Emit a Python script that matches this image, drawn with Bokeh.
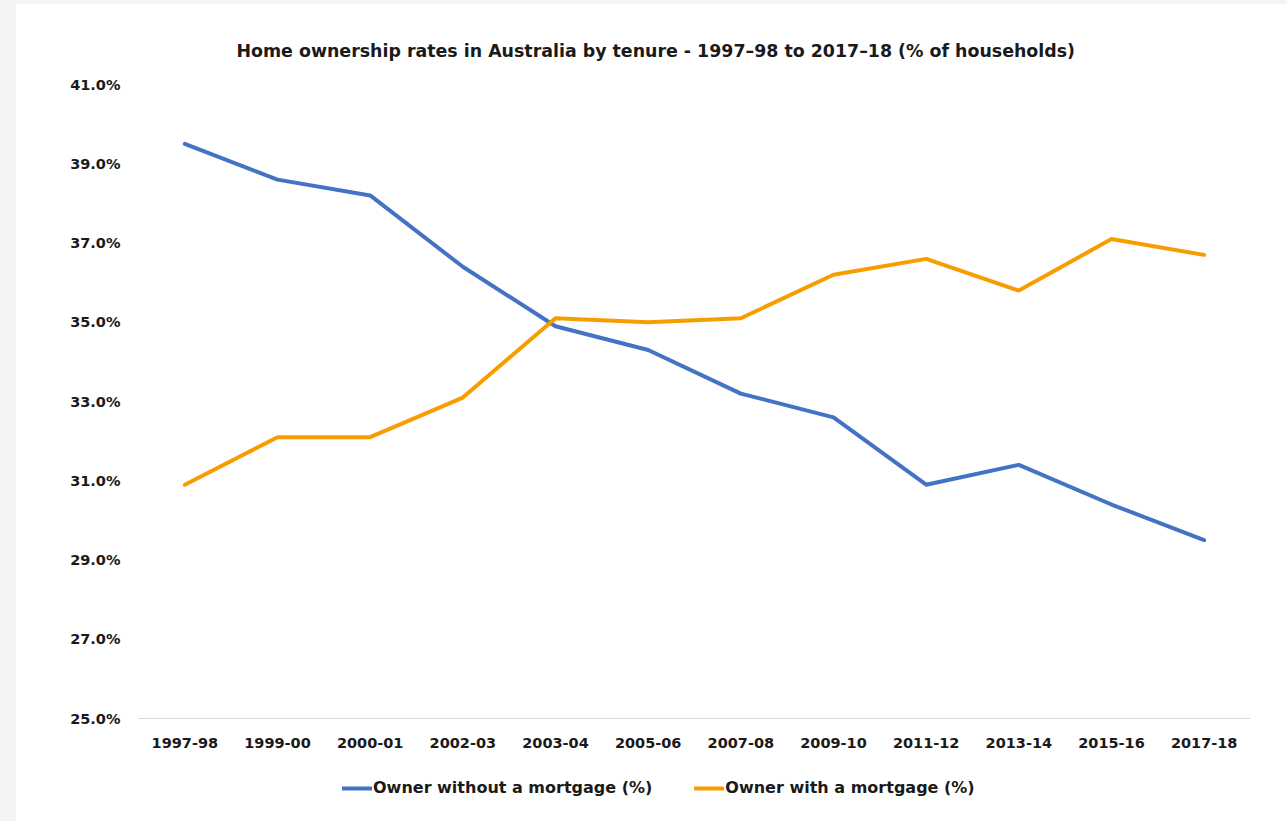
from bokeh.plotting import figure
from bokeh.layouts import column
from bokeh.models import FixedTicker, PrintfTickFormatter, Legend, LegendItem, Title
from bokeh.embed import file_html
from bokeh.resources import INLINE

periods = ["1997-98", "1999-00", "2000-01", "2002-03", "2003-04", "2005-06",
           "2007-08", "2009-10", "2011-12", "2013-14", "2015-16", "2017-18"]
without_mortgage = [39.5, 38.6, 38.2, 36.4, 34.9, 34.3, 33.2, 32.6, 30.9, 31.4, 30.4, 29.5]
with_mortgage = [30.9, 32.1, 32.1, 33.1, 35.1, 35.0, 35.1, 36.2, 36.6, 35.8, 37.1, 36.7]
y_ticks = [25, 27, 29, 31, 33, 35, 37, 39, 41]
series_names = ["Owner without a mortgage (%)", "Owner with a mortgage (%)"]
series_colors = ["#4472C4", "#F89D00"]

FONT = "DejaVu Sans"
TXT = "#1a1a1a"

p = figure(x_range=periods, y_range=(25, 41), width=1271, height=760,
           output_backend="svg", toolbar_location=None,
           min_border_left=122, min_border_right=37, min_border_top=80, min_border_bottom=46,
           background_fill_color="white", border_fill_color="white", outline_line_color=None)
t = Title(text="Home ownership rates in Australia by tenure - 1997\u201398 to 2017\u201318 (% of households)",
          align="left", text_font=FONT, text_font_size="17.4px", text_font_style="bold",
          text_color=TXT, standoff=47, offset=98)
p.add_layout(t, "above")

p.line(periods, without_mortgage, line_color=series_colors[0], line_width=4, line_cap="round", line_join="round")
p.line(periods, with_mortgage, line_color=series_colors[1], line_width=4, line_cap="round", line_join="round")

p.xgrid.visible = False
p.ygrid.visible = False

p.yaxis.ticker = FixedTicker(ticks=y_ticks)
p.yaxis.formatter = PrintfTickFormatter(format="%.1f%%")
p.yaxis.axis_line_color = None
p.yaxis.major_tick_line_color = None
p.yaxis.minor_tick_line_color = None
p.yaxis.major_label_standoff = 12
p.yaxis.major_label_text_font = FONT
p.yaxis.major_label_text_font_size = "14.5px"
p.yaxis.major_label_text_font_style = "bold"
p.yaxis.major_label_text_color = TXT

p.xaxis.axis_line_color = "#d9d9d9"
p.xaxis.axis_line_width = 1
p.xaxis.major_tick_line_color = None
p.xaxis.minor_tick_line_color = None
p.xaxis.major_label_standoff = 13
p.xaxis.major_label_text_font = FONT
p.xaxis.major_label_text_font_size = "14.5px"
p.xaxis.major_label_text_font_style = "bold"
p.xaxis.major_label_text_color = TXT

# legend strip below the chart (proxy renderers carry only the legend styling)
lf = figure(width=1271, height=57, output_backend="svg", toolbar_location=None,
            x_axis_type=None, y_axis_type=None, min_border=0,
            background_fill_color="white", border_fill_color="white", outline_line_color=None)
lf.xgrid.visible = False
lf.ygrid.visible = False
items = []
for name, col in zip(series_names, series_colors):
    rr = lf.line(x=[0, 1], y=[float("nan"), float("nan")], line_color=col, line_width=4, line_cap="round")
    items.append(LegendItem(label=name, renderers=[rr]))
legend = Legend(items=items, orientation="horizontal", location=(204, 24),
                glyph_width=30, glyph_height=10, label_standoff=1, spacing=42,
                padding=0, margin=0, border_line_color=None, background_fill_alpha=0,
                label_text_font=FONT, label_text_font_size="16px", label_text_font_style="bold",
                label_text_color=TXT)
lf.add_layout(legend, "center")

layout = column(p, lf, spacing=0)
layout.margin = (4, 0, 0, 16)
layout.styles = {"background-color": "white"}

html = file_html(layout, INLINE)
html = html.replace("</head>", "<style>body{background:#f4f4f4;}</style></head>", 1)
open("out.html", "w").write(html)
